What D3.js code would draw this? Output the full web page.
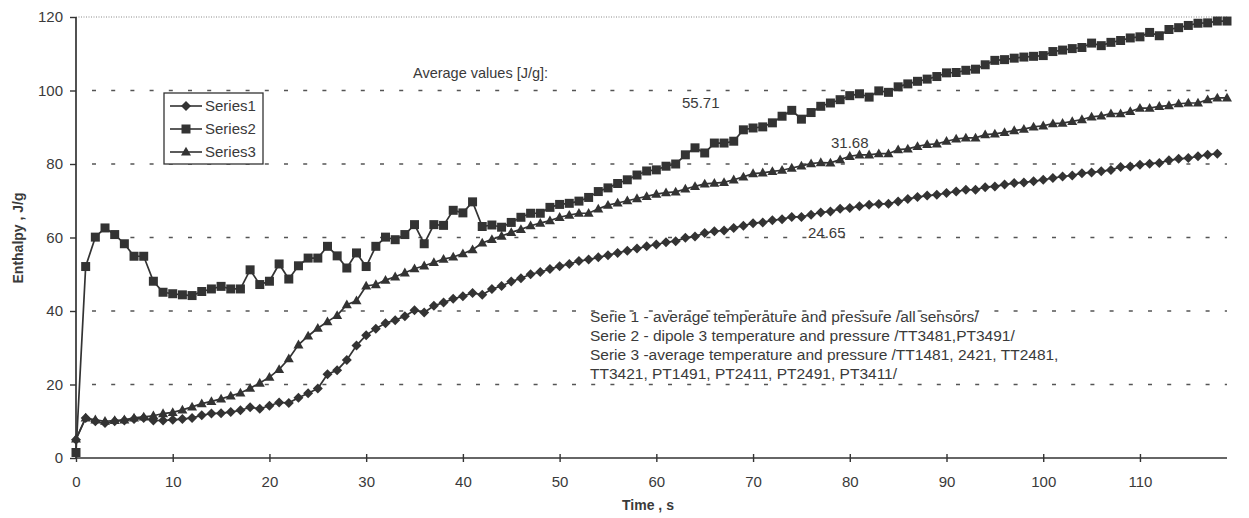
<!DOCTYPE html>
<html>
<head>
<meta charset="utf-8">
<script src="https://cdn.jsdelivr.net/npm/d3@7"></script>
<style>
  html, body { margin: 0; padding: 0; background: #fff; }
  svg { display: block; }
  text { font-family: "Liberation Sans", Arial, sans-serif; fill: #3a3a3a; }
</style>
</head>
<body>
<svg id="chart" width="1249" height="518"></svg>
<script>
// ---------------- data ----------------
const seriesNames = ["Series1", "Series2", "Series3"];
const xTicks = [0, 10, 20, 30, 40, 50, 60, 70, 80, 90, 100, 110];
const yTicks = [0, 20, 40, 60, 80, 100, 120];

const series1 = [5.0, 10.9, 10.0, 9.5, 10.0, 10.2, 10.6, 10.9, 10.2, 10.2,
  10.4, 10.6, 10.9, 11.6, 12.1, 12.2, 12.5, 13.0, 13.8, 13.4,
  14.2, 15.1, 15.0, 16.4, 17.6, 18.9, 22.8, 23.9, 26.7, 30.6,
  33.4, 35.2, 36.7, 37.5, 38.6, 40.2, 39.6, 41.4, 42.3, 43.3,
  44.0, 44.9, 44.4, 46.0, 46.8, 48.0, 48.9, 50.0, 50.6, 51.4,
  52.2, 52.8, 53.6, 54.0, 54.6, 55.2, 55.8, 56.4, 57.0, 57.6,
  58.1, 58.7, 59.0, 59.9, 60.3, 61.2, 61.7, 61.9, 62.6, 63.2,
  63.9, 64.1, 64.7, 65.0, 65.6, 65.6, 66.2, 66.8, 67.1, 67.8,
  68.0, 68.5, 68.9, 69.1, 69.2, 69.8, 70.5, 71.0, 71.4, 71.6,
  72.1, 72.5, 73.0, 73.0, 73.7, 73.9, 74.4, 74.8, 75.0, 75.3,
  75.7, 76.2, 76.6, 76.9, 77.5, 77.7, 78.0, 78.4, 79.2, 79.3,
  79.8, 80.1, 80.3, 81.0, 81.4, 81.6, 82.1, 82.5, 82.8];

const series2 = [1.5, 52.1, 60.1, 62.6, 60.8, 58.3, 54.9, 54.9, 48.1, 45.1,
  44.7, 44.4, 44.2, 45.3, 46.0, 46.7, 46.0, 46.0, 51.2, 47.2,
  48.1, 52.8, 48.7, 52.3, 54.4, 54.4, 57.6, 55.0, 51.7, 55.8,
  52.1, 57.6, 60.1, 59.4, 60.8, 63.5, 58.3, 63.5, 63.3, 67.4,
  66.7, 69.7, 63.0, 63.4, 62.8, 64.1, 65.5, 66.6, 66.6, 68.2,
  69.0, 69.3, 69.9, 70.9, 72.5, 73.5, 74.7, 75.7, 77.0, 78.1,
  78.4, 79.4, 80.0, 82.5, 84.4, 83.0, 85.7, 85.7, 86.2, 89.3,
  89.8, 90.1, 91.2, 93.0, 94.6, 92.2, 94.0, 95.7, 96.6, 97.5,
  98.6, 99.1, 98.2, 99.9, 99.5, 101.0, 101.8, 102.5, 103.1, 103.8,
  104.8, 104.9, 105.5, 105.8, 107.0, 108.2, 108.4, 108.8, 109.1, 109.3,
  109.5, 110.6, 111.0, 111.4, 111.7, 112.9, 112.2, 113.1, 113.6, 114.3,
  114.6, 115.8, 114.9, 116.6, 117.1, 117.7, 118.3, 118.4, 118.9, 118.9];

const series3 = [5.2, 10.9, 10.4, 10.0, 10.2, 10.4, 10.9, 11.2, 11.5, 12.1,
  12.4, 13.1, 13.9, 14.8, 15.4, 16.1, 16.9, 17.7, 19.0, 20.4,
  22.0, 24.1, 27.0, 30.8, 33.2, 35.3, 37.1, 38.8, 41.7, 42.8,
  46.8, 47.2, 48.4, 49.3, 50.4, 51.5, 52.3, 53.2, 54.1, 54.7,
  55.6, 56.7, 58.5, 59.5, 60.4, 61.4, 62.2, 63.2, 63.9, 64.6,
  65.5, 66.1, 66.6, 66.6, 67.8, 68.8, 69.4, 70.0, 70.6, 71.2,
  71.8, 72.2, 72.4, 73.2, 73.9, 74.6, 74.8, 75.0, 75.7, 76.5,
  77.4, 77.6, 78.0, 78.3, 78.9, 79.5, 80.1, 80.4, 80.3, 81.2,
  82.1, 82.5, 82.5, 82.8, 82.8, 83.9, 84.1, 84.8, 85.3, 85.5,
  86.2, 86.8, 87.1, 87.1, 88.0, 88.2, 88.6, 89.1, 89.5, 90.1,
  90.4, 91.0, 91.1, 91.6, 92.1, 92.8, 93.1, 93.7, 93.7, 94.3,
  95.2, 95.2, 95.7, 95.9, 96.4, 96.6, 96.6, 97.5, 98.0, 98.0];

const averageLabels = ["55.71", "31.68", "24.65"];
const notes = [
  "Serie 1 - average temperature and pressure /all sensors/",
  "Serie 2 - dipole 3 temperature and pressure /TT3481,PT3491/",
  "Serie 3 -average temperature and pressure /TT1481, 2421, TT2481,",
  "TT3421, PT1491, PT2411, PT2491, PT3411/"
];

// ---------------- drawing ----------------
const svg = d3.select("#chart");
const ink = "#333";

const x = d3.scaleLinear().domain([0, 119]).range([76, 1227]);
const y = d3.scaleLinear().domain([0, 120]).range([458, 17]);

// gridlines
const grid = svg.append("g");
grid.selectAll("line.g").data(yTicks.filter(v => v > 0 && v < 120)).join("line")
  .attr("x1", x(0) + 16).attr("x2", x(119))
  .attr("y1", d => y(d)).attr("y2", d => y(d))
  .attr("stroke", "#555").attr("stroke-width", 1.6)
  .attr("stroke-dasharray", "4,15.2");
grid.append("line")
  .attr("x1", x(0)).attr("x2", x(119))
  .attr("y1", y(120)).attr("y2", y(120))
  .attr("stroke", "#8a8a8a").attr("stroke-width", 1)
  .attr("stroke-dasharray", "1,1.5");

// axes
const yAxis = svg.append("g").attr("transform", `translate(${x(0)},0)`)
  .call(d3.axisLeft(y).tickValues(yTicks).tickSize(6).tickPadding(7));
const xAxis = svg.append("g").attr("transform", `translate(0,${y(0)})`)
  .call(d3.axisBottom(x).tickValues(xTicks).tickSize(5).tickPadding(13));
[xAxis, yAxis].forEach(a => {
  a.select(".domain").attr("stroke", ink).attr("stroke-width", 1.7);
  a.selectAll(".tick line").attr("stroke", ink).attr("stroke-width", 1.4);
  a.selectAll(".tick text").attr("font-size", 15).attr("fill", "#3a3a3a")
    .attr("font-family", "Liberation Sans, Arial, sans-serif");
});
xAxis.select(".domain").attr("d", `M${x(0)},0H${x(119)}`);
xAxis.selectAll(".tick line").attr("y1", -4).attr("y2", 4);
yAxis.select(".domain").attr("d", `M0,${y(120)}V${y(0)}`);

// markers
const diamond = "M0,-5L5,0L0,5L-5,0Z";
const square = "M-4.5,-4.5H4.5V4.5H-4.5Z";
const triangle = "M0,-5.2L5,3.6H-5Z";
const markerPaths = [diamond, square, triangle];

const allSeries = [series1, series2, series3];
const line = d3.line().x((d, i) => x(i)).y(d => y(d));

allSeries.forEach((s, k) => {
  svg.append("path").datum(s)
    .attr("d", line).attr("fill", "none")
    .attr("stroke", ink).attr("stroke-width", 1.7);
});
allSeries.forEach((s, k) => {
  svg.append("g").selectAll("path").data(s).join("path")
    .attr("transform", (d, i) => `translate(${x(i)},${y(d)})`)
    .attr("d", markerPaths[k]).attr("fill", ink);
});

// legend
const lg = svg.append("g");
lg.append("rect").attr("x", 164).attr("y", 93).attr("width", 99).attr("height", 71)
  .attr("fill", "#fff").attr("stroke", ink).attr("stroke-width", 1.3);
seriesNames.forEach((n, k) => {
  const yy = 106 + k * 23;
  lg.append("line").attr("x1", 170).attr("x2", 202).attr("y1", yy).attr("y2", yy)
    .attr("stroke", ink).attr("stroke-width", 1.6);
  lg.append("path").attr("d", markerPaths[k]).attr("transform", `translate(186,${yy})`).attr("fill", ink);
  lg.append("text").attr("x", 205).attr("y", yy + 5).attr("font-size", 15).text(n);
});

// annotations
svg.append("text").attr("x", 413).attr("y", 78).attr("font-size", 14.5).text("Average values [J/g]:");
const avgPos = [[682, 108], [831, 148], [808, 237.5]];
averageLabels.forEach((t, i) => {
  svg.append("text").attr("x", avgPos[i][0]).attr("y", avgPos[i][1]).attr("font-size", 15).text(t);
});
const noteY = [321.5, 341, 360, 378.5];
notes.forEach((t, i) => {
  svg.append("text").attr("x", 590).attr("y", noteY[i]).attr("font-size", 15.5).text(t);
});

// axis titles
svg.append("text").attr("x", 648).attr("y", 510).attr("text-anchor", "middle")
  .attr("font-size", 14).attr("font-weight", "bold").text("Time , s");
svg.append("text").attr("transform", "translate(23,238) rotate(-90)").attr("text-anchor", "middle")
  .attr("font-size", 14).attr("font-weight", "bold").text("Enthalpy , J/g");
</script>
</body>
</html>
